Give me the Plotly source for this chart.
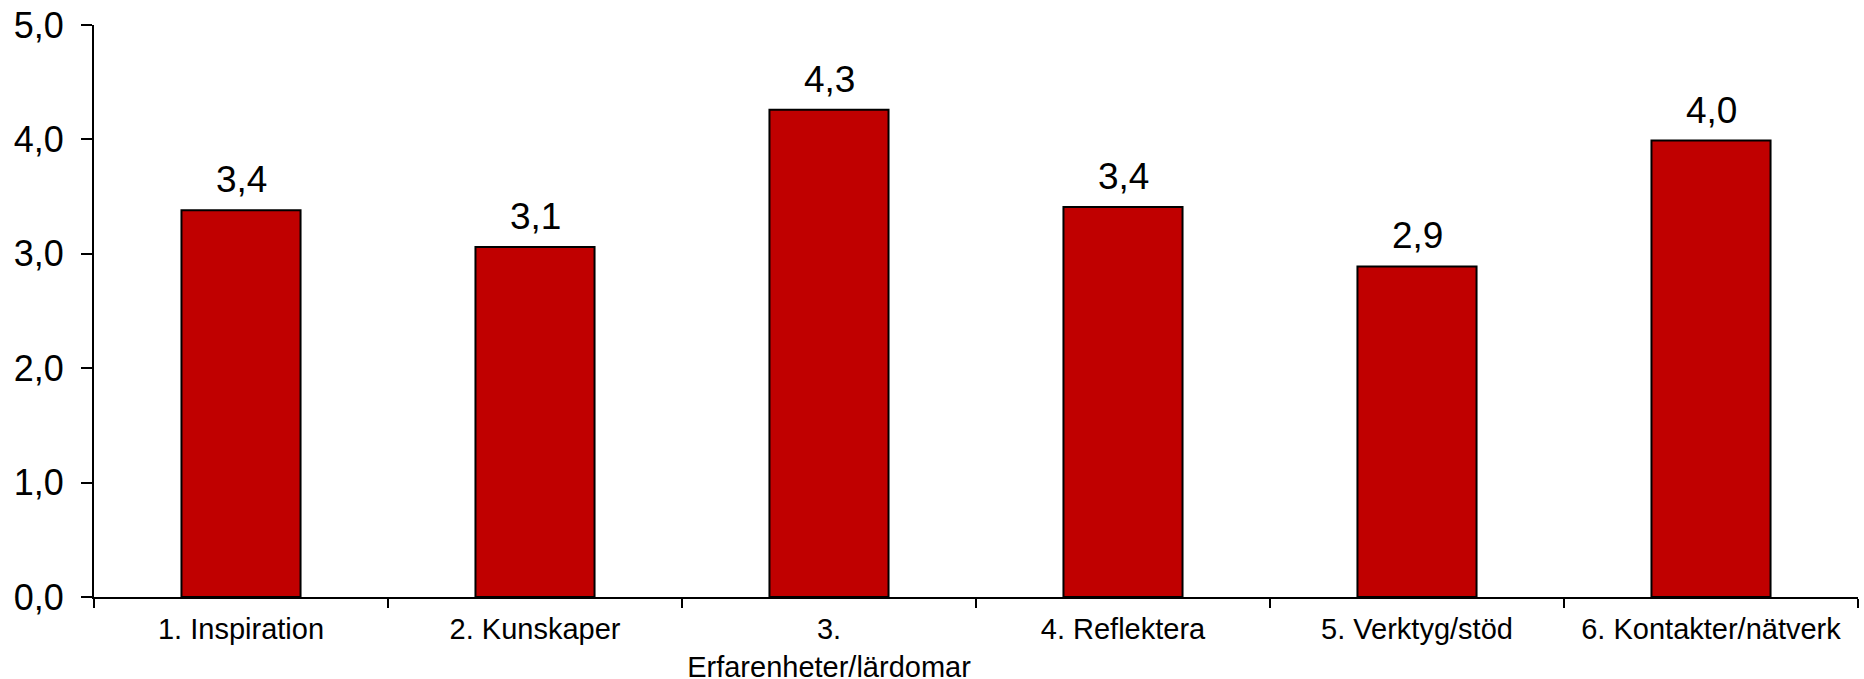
import plotly.graph_objects as go

categories = ["1. Inspiration", "2. Kunskaper", "3.<br>Erfarenheter/lärdomar",
              "4. Reflektera", "5. Verktyg/stöd", "6. Kontakter/nätverk"]
values = [3.38, 3.06, 4.26, 3.41, 2.89, 3.99]
y_ticks = [0, 1, 2, 3, 4, 5]

fig = go.Figure()
fig.add_trace(go.Bar(
    x=categories, y=values,
    marker=dict(color="#C00000", line=dict(color="black", width=2)),
    width=0.405,
))

for c, v in zip(categories, values):
    fig.add_annotation(
        x=c, y=v, text=f"{v:.1f}".replace(".", ","),
        showarrow=False, yanchor="bottom", yshift=8,
        font=dict(family="Liberation Sans, Arial", size=37, color="black"),
    )

fig.update_layout(
    width=1864, height=679,
    margin=dict(l=94, r=6, t=25, b=82, autoexpand=False),
    plot_bgcolor="white", paper_bgcolor="white",
    separators=", ",
    showlegend=False,
    font=dict(family="Liberation Sans, Arial", color="black"),
)
fig.update_xaxes(
    type="category", automargin=False, tickangle=0,
    showline=True, linecolor="black", linewidth=2,
    ticks="outside", tickson="boundaries", ticklen=9, tickwidth=2, tickcolor="black",
    tickfont=dict(size=29),
    showgrid=False, zeroline=False,
    ticklabelstandoff=5,
)
fig.update_yaxes(
    range=[0, 5], tickvals=y_ticks, tickformat=".1f", automargin=False,
    showline=True, linecolor="black", linewidth=2,
    ticks="outside", ticklen=11, tickwidth=2, tickcolor="black",
    tickfont=dict(size=36),
    showgrid=False, zeroline=False,
    ticklabelstandoff=10,
)

fig.write_html("out.html")
